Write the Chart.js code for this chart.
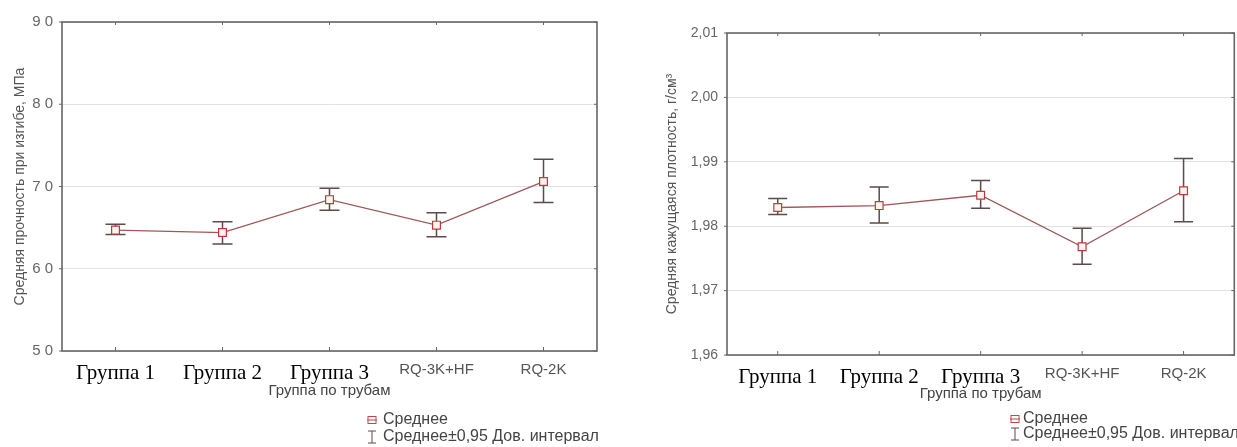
<!DOCTYPE html>
<html>
<head>
<meta charset="utf-8">
<script src="https://cdn.jsdelivr.net/npm/chart.js@4"></script>
<style>
  body { margin: 0; background: #fff; width: 1237px; height: 447px; position: relative; overflow: hidden; }
  canvas { position: absolute; top: 0; }
  #left { left: 0; }
  #right { left: 640px; }
</style>
</head>
<body>
<canvas id="left" width="610" height="447"></canvas>
<canvas id="right" width="601" height="447"></canvas>
<script>
const categories = ['Группа 1', 'Группа 2', 'Группа 3', 'RQ-3K+HF', 'RQ-2K'];

// left: bending strength, MPa
const strengthMean = [64.7, 64.4, 68.4, 65.3, 70.6];
const strengthLow  = [64.15, 63.0, 67.1, 63.9, 68.05];
const strengthHigh = [65.4, 65.7, 69.8, 66.8, 73.3];
const strengthTicks = [50, 60, 70, 80, 90];

// right: apparent density, g/cm3
const densityMean = [1.9829, 1.9832, 1.9848, 1.9768, 1.9855];
const densityLow  = [1.9818, 1.9805, 1.9828, 1.9741, 1.9807];
const densityHigh = [1.9843, 1.9861, 1.9871, 1.9797, 1.9905];
const densityTicks = [1.96, 1.97, 1.98, 1.99, 2.00, 2.01];

const sans = 'Arial, "Liberation Sans", sans-serif';
const serif = '"Times New Roman", "Liberation Serif", serif';

// error bars go under the line and markers
const errorBars = {
  id: 'errorBars',
  beforeDatasetsDraw(chart, args, opts) {
    const {ctx, scales: {x, y}} = chart;
    ctx.save();
    ctx.strokeStyle = '#5e4a4a';
    ctx.lineWidth = 1.5;
    opts.low.forEach((lo, i) => {
      const px = x.getPixelForValue(i);
      const y1 = y.getPixelForValue(lo);
      const y2 = y.getPixelForValue(opts.high[i]);
      ctx.beginPath();
      ctx.moveTo(px, y1); ctx.lineTo(px, y2);
      ctx.moveTo(px - opts.cap, y1); ctx.lineTo(px + opts.cap, y1);
      ctx.moveTo(px - opts.cap, y2); ctx.lineTo(px + opts.cap, y2);
      ctx.stroke();
    });
    ctx.restore();
  }
};

// box around the plot with small inner tick marks
const frame = {
  id: 'frame',
  afterDraw(chart) {
    const {ctx, chartArea: a, scales: {x, y}} = chart;
    ctx.save();
    ctx.strokeStyle = '#666';
    ctx.lineWidth = 1.6;
    ctx.strokeRect(a.left, a.top, a.right - a.left, a.bottom - a.top);
    ctx.lineWidth = 1;
    ctx.beginPath();
    x.ticks.forEach((t, i) => {
      const px = x.getPixelForTick(i);
      ctx.moveTo(px, a.bottom); ctx.lineTo(px, a.bottom - 4);
      ctx.moveTo(px, a.top); ctx.lineTo(px, a.top + 3);
    });
    y.ticks.forEach((t, i) => {
      const py = y.getPixelForTick(i);
      ctx.moveTo(a.left, py); ctx.lineTo(a.left - 3, py);
      ctx.moveTo(a.right, py); ctx.lineTo(a.right - 3, py);
    });
    ctx.stroke();
    ctx.restore();
  }
};

const legendBox = {
  id: 'legendBox',
  afterDraw(chart, args, opts) {
    const ctx = chart.ctx;
    const sx = opts.x, y1 = opts.y1, y2 = opts.y2;
    ctx.save();
    // mean marker
    ctx.strokeStyle = '#c04545';
    ctx.lineWidth = 1;
    ctx.strokeRect(sx - 4, y1 - 3.5, 8, 7);
    ctx.beginPath(); ctx.moveTo(sx - 5, y1); ctx.lineTo(sx + 5, y1); ctx.stroke();
    // interval marker
    ctx.strokeStyle = '#5e4a4a';
    ctx.beginPath();
    ctx.moveTo(sx - 4, y2 - 6); ctx.lineTo(sx + 4, y2 - 6);
    ctx.moveTo(sx, y2 - 6); ctx.lineTo(sx, y2 + 6);
    ctx.moveTo(sx - 4, y2 + 6); ctx.lineTo(sx + 4, y2 + 6);
    ctx.stroke();
    ctx.fillStyle = '#444';
    ctx.font = '16px ' + sans;
    ctx.textBaseline = 'middle';
    ctx.fillText('Среднее', sx + opts.gap, y1);
    ctx.fillText('Среднее±0,95 Дов. интервал', sx + opts.gap, y2);
    ctx.restore();
  }
};

function makeChart(id, s) {
  new Chart(document.getElementById(id), {
    type: 'line',
    data: {
      labels: categories,
      datasets: [{
        label: 'Среднее',
        data: s.mean,
        borderColor: '#9e5858',
        borderWidth: 1.3,
        pointStyle: 'rect',
        pointRadius: 5.5,
        pointBorderWidth: 1.2,
        pointBorderColor: '#c03a3a',
        pointBackgroundColor: '#fff4f4',
        tension: 0
      }]
    },
    options: {
      responsive: false,
      animation: false,
      layout: { padding: s.padding },
      plugins: {
        legend: { display: false },
        tooltip: { enabled: false },
        errorBars: { low: s.low, high: s.high, cap: s.cap },
        legendBox: s.legend
      },
      scales: {
        x: {
          offset: true,
          grid: { display: false },
          border: { display: false },
          ticks: {
            padding: 2,
            maxRotation: 0,
            autoSkip: false,
            font: (c) => c.index < 3 ? { family: serif, size: 21 } : { family: sans, size: 15 },
            color: (c) => c.index < 3 ? '#000' : '#555'
          },
          title: {
            display: true,
            text: 'Группа по трубам',
            font: { family: sans, size: 15 },
            color: '#444',
            padding: { top: 0, bottom: s.xTitlePad }
          },
          afterFit: (sc) => { sc.height = s.xHeight; }
        },
        y: {
          min: s.ticks[0],
          max: s.ticks[s.ticks.length - 1],
          afterBuildTicks: (sc) => { sc.ticks = s.ticks.map(v => ({ value: v })); },
          grid: { color: '#e2e2e2', drawTicks: false },
          border: { display: false },
          ticks: {
            padding: 9,
            font: { family: sans, size: s.tickSize },
            color: '#666',
            callback: s.format
          },
          title: {
            display: true,
            text: s.yTitle,
            font: { family: sans, size: 14 },
            color: '#555',
            padding: { top: s.yTitlePad, bottom: 0 }
          },
          afterFit: (sc) => { sc.width = s.yWidth; }
        }
      }
    },
    plugins: [errorBars, frame, legendBox]
  });
}

makeChart('left', {
  mean: strengthMean, low: strengthLow, high: strengthHigh, ticks: strengthTicks,
  cap: 10,
  padding: { top: 22, right: 13, bottom: 0, left: 0 },
  yWidth: 62, xHeight: 96,
  yTitle: 'Средняя прочность при изгибе, МПа', yTitlePad: 12, xTitlePad: 47,
  tickSize: 15,
  format: (v) => String(v).split('').join(' '),
  legend: { x: 372, y1: 420, y2: 437, gap: 11 }
});

makeChart('right', {
  mean: densityMean, low: densityLow, high: densityHigh, ticks: densityTicks,
  cap: 9.5,
  padding: { top: 33, right: 2, bottom: 0, left: 0 },
  yWidth: 87, xHeight: 92,
  yTitle: 'Средняя кажущаяся плотность, г/см³', yTitlePad: 24, xTitlePad: 44,
  tickSize: 14,
  format: (v) => v.toFixed(2).replace('.', ','),
  legend: { x: 375, y1: 419, y2: 434, gap: 8 }
});
</script>
</body>
</html>
